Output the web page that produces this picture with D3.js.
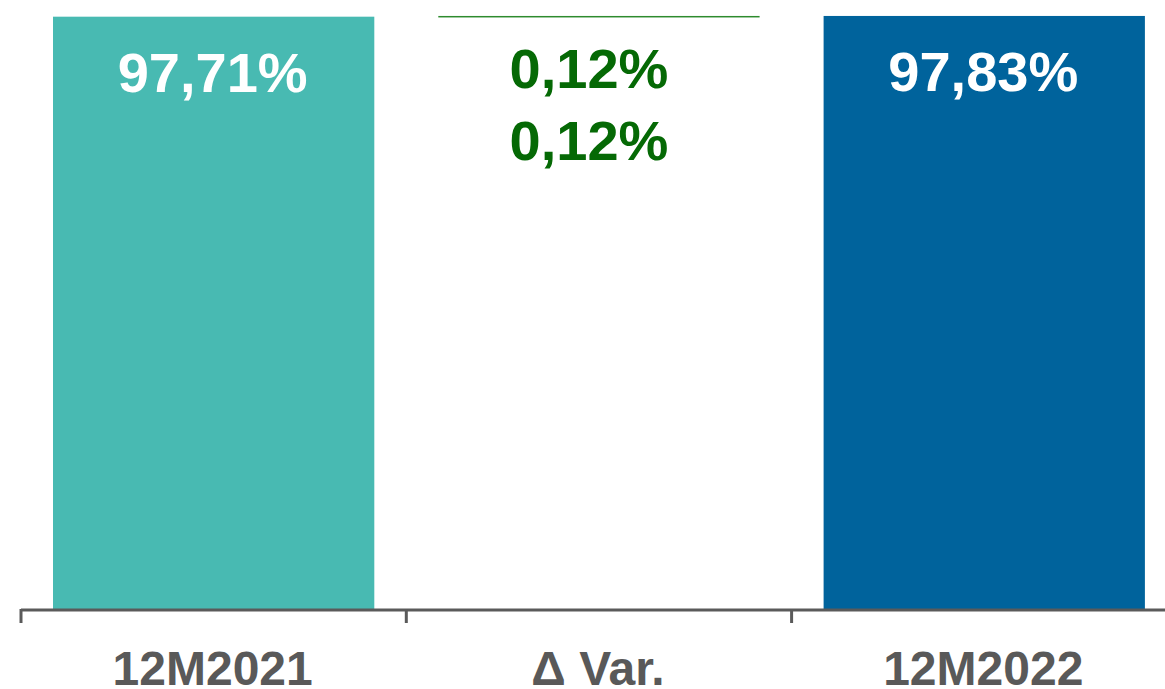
<!DOCTYPE html>
<html>
<head>
<meta charset="utf-8">
<script src="https://cdn.jsdelivr.net/npm/d3@7"></script>
<style>
  body { margin: 0; background: #fff; }
  svg { display: block; font-family: "Liberation Sans", Arial, sans-serif; font-weight: bold; }
</style>
</head>
<body>
<div id="chart"></div>
<script>
// chart data
var categories = ["12M2021", "Δ Var.", "12M2022"];
var values = [97.71, 0.12, 97.83];
var valueLabels = ["97,71%", "0,12%", "97,83%"];
var deltaLabels = ["0,12%", "0,12%"];

var width = 1165, height = 689;
var axisY = 609;

var svg = d3.select("#chart").append("svg")
    .attr("width", width)
    .attr("height", height);

// bands span the full slot, ticks sit on band edges
var x = d3.scaleBand()
    .domain(categories)
    .range([21, 21 + 3 * 385.3])
    .paddingInner(0)
    .paddingOuter(0);

var y = d3.scaleLinear()
    .domain([0, 100])
    .range([axisY, 2.8]);

var barInset = 32;
var barWidth = x.bandwidth() - 2 * barInset;

// waterfall steps: start, delta, end
var steps = [
    { cat: categories[0], lo: 0, hi: values[0], fill: "#48BAB2" },
    { cat: categories[1], lo: values[0], hi: values[0] + values[1], fill: "#2E8B2E" },
    { cat: categories[2], lo: 0, hi: values[2], fill: "#00639C" }
];

svg.selectAll("rect.bar")
    .data(steps)
    .enter().append("rect")
    .attr("class", "bar")
    .attr("x", function (d) { return x(d.cat) + barInset; })
    .attr("y", function (d) { return y(d.hi); })
    .attr("width", barWidth)
    .attr("height", function (d) { return Math.max(1.5, y(d.lo) - y(d.hi)); })
    .attr("fill", function (d) { return d.fill; });

// value labels on the total bars
svg.selectAll("text.val")
    .data([0, 2])
    .enter().append("text")
    .attr("class", "val")
    .attr("x", function (i) { return x(categories[i]) + x.bandwidth() / 2 - 1; })
    .attr("y", function (i) { return y(values[i]) + 75; })
    .attr("text-anchor", "middle")
    .attr("fill", "#ffffff")
    .attr("font-size", "56px")
    .text(function (i) { return valueLabels[i]; });

// delta labels (two lines, green)
svg.selectAll("text.delta")
    .data(deltaLabels)
    .enter().append("text")
    .attr("class", "delta")
    .attr("x", x(categories[1]) + x.bandwidth() / 2 - 10)
    .attr("y", function (d, i) { return y(values[0] + values[1]) + 72 + i * 72; })
    .attr("text-anchor", "middle")
    .attr("fill", "#056905")
    .attr("font-size", "56px")
    .text(function (d) { return d; });

// axis: baseline plus ticks at band edges
var axisG = svg.append("g").attr("class", "axis");
axisG.append("line")
    .attr("x1", x.range()[0])
    .attr("x2", width)
    .attr("y1", axisY + 1)
    .attr("y2", axisY + 1)
    .attr("stroke", "#5a5a5a")
    .attr("stroke-width", 3);

var edges = categories.map(function (c) { return x(c); });
axisG.selectAll("line.tick")
    .data(edges)
    .enter().append("line")
    .attr("class", "tick")
    .attr("x1", function (d) { return d; })
    .attr("x2", function (d) { return d; })
    .attr("y1", axisY)
    .attr("y2", axisY + 14)
    .attr("stroke", "#5a5a5a")
    .attr("stroke-width", 3);

axisG.selectAll("text.cat")
    .data(categories)
    .enter().append("text")
    .attr("class", "cat")
    .attr("x", function (c) { return x(c) + x.bandwidth() / 2 - 1; })
    .attr("y", 685)
    .attr("text-anchor", "middle")
    .attr("fill", "#595959")
    .attr("font-size", "48px")
    .text(function (c) { return c; });
</script>
</body>
</html>
